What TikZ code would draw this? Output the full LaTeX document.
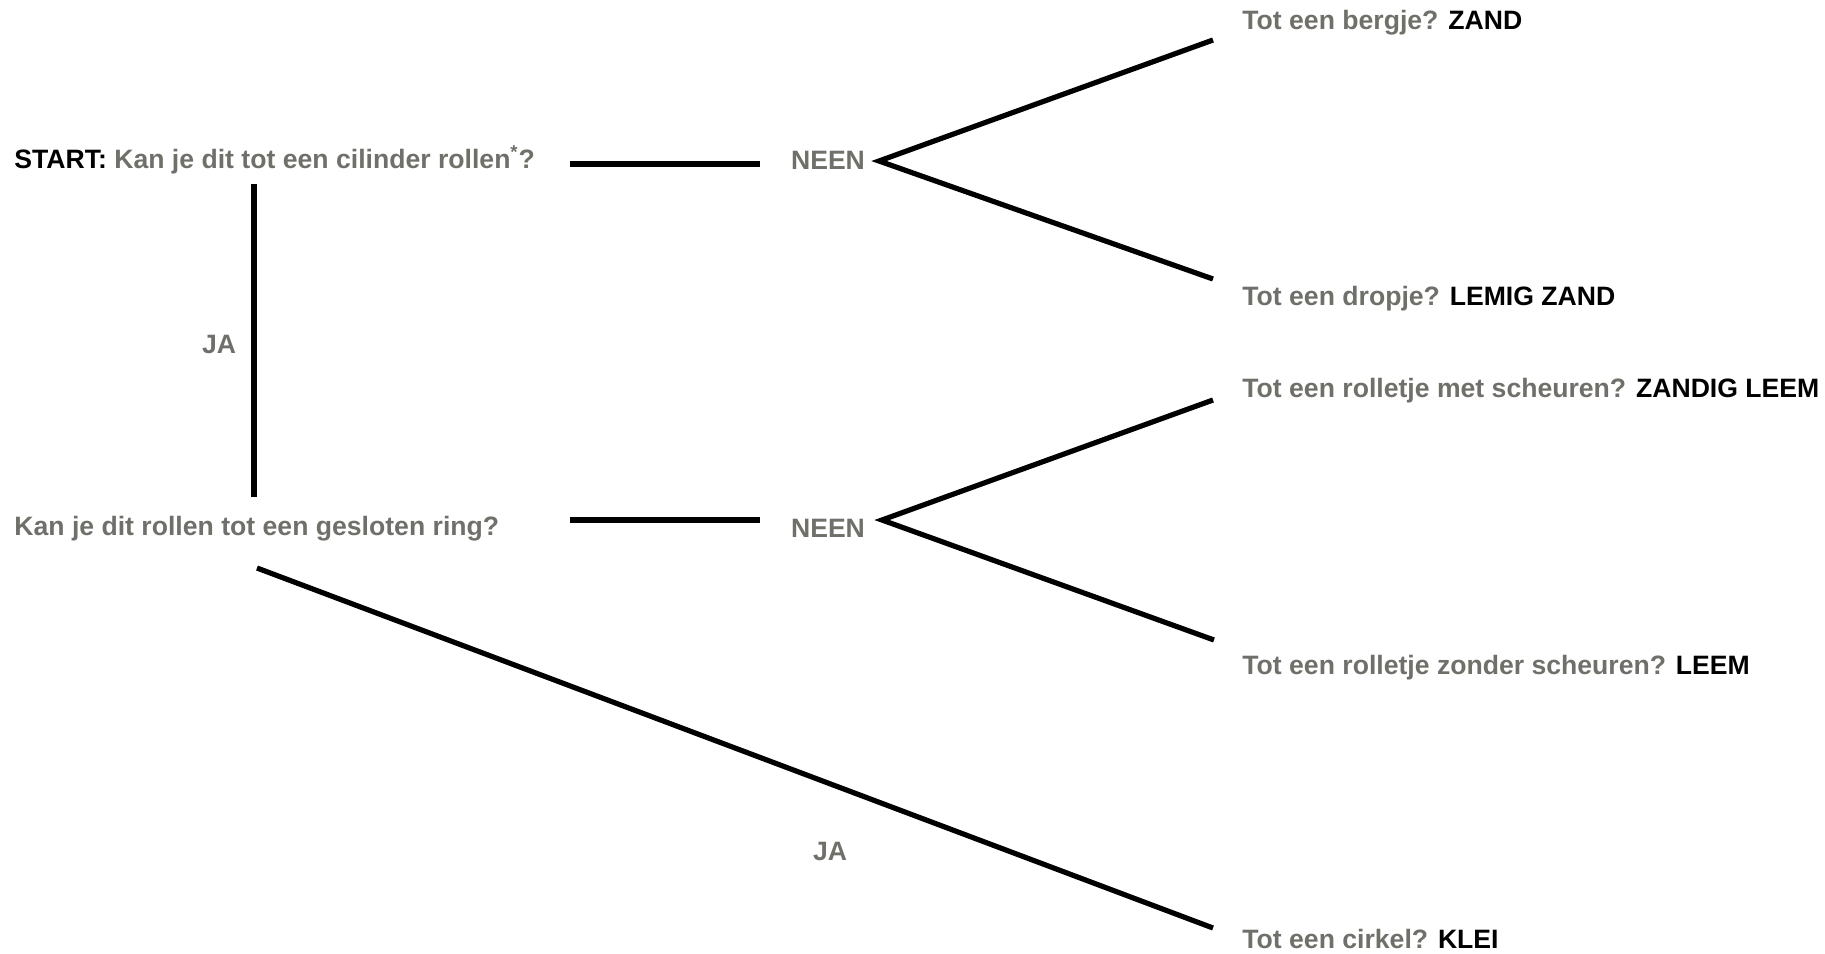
\documentclass[tikz,border=0pt]{standalone}
\usepackage{fontspec}
\setmainfont{Liberation Sans}
\definecolor{txtgray}{RGB}{112,112,107}
\begin{document}
\begin{tikzpicture}[x=0.5pt,y=-0.5pt,
  lbl/.style={font=\fontsize{13.3}{15}\selectfont\bfseries, text=txtgray, inner sep=0pt},
  ans/.style={lbl, anchor=west},
  conn/.style={line width=2.6pt, black}]
\useasboundingbox (0,0) rectangle (1825,953);
% question nodes
\node[ans] (q1) at (14,160) {\textcolor{black}{START:} Kan je dit tot een cilinder rollen\textsuperscript{*}?};
\node[ans] (q2) at (14,529) {Kan je dit rollen tot een gesloten ring?};
\node[lbl] (neen1) at (828,160) {NEEN};
\node[lbl] (neen2) at (828,528) {NEEN};
\node[lbl] (ja1) at (219,344) {JA};
\node[lbl] (ja2) at (830,851) {JA};
% answers
\node[ans] (a1) at (1242,23) {Tot een bergje? \textcolor{black}{ZAND}};
\node[ans] (a2) at (1242,299) {Tot een dropje? \textcolor{black}{LEMIG ZAND}};
\node[ans] (a3) at (1242,391) {Tot een rolletje met scheuren? \textcolor{black}{ZANDIG LEEM}};
\node[ans] (a4) at (1242,668) {Tot een rolletje zonder scheuren? \textcolor{black}{LEEM}};
\node[ans] (a5) at (1242,939) {Tot een cirkel? \textcolor{black}{KLEI}};
% connector end points
\coordinate (l1s) at (570,164);
\coordinate (l1e) at (760,164);
\coordinate (v1) at (879,161);
\coordinate (a1e) at (1213,40);
\coordinate (a2e) at (1213,279);
\coordinate (l2s) at (570,520);
\coordinate (l2e) at (760,520);
\coordinate (v2) at (882,520);
\coordinate (a3e) at (1213,400);
\coordinate (a4e) at (1214,640);
\coordinate (vt) at (254,184);
\coordinate (vb) at (254,497);
\coordinate (ds) at (257,568);
\coordinate (de) at (1213,928);
% connectors
\draw[conn] (l1s) -- (l1e);
\draw[conn] (a1e) -- (v1) -- (a2e);
\draw[conn] (l2s) -- (l2e);
\draw[conn] (a3e) -- (v2) -- (a4e);
\draw[conn] (vt) -- (vb);
\draw[conn] (ds) -- (de);
\end{tikzpicture}
\end{document}
